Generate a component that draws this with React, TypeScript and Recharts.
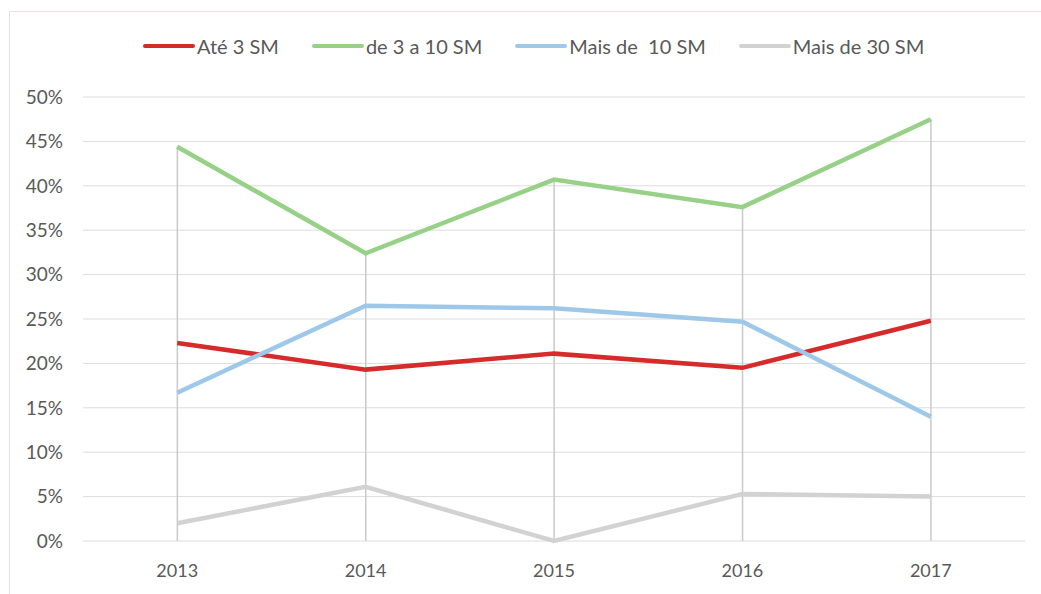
import React from 'react';
import { ComposedChart, Line, Bar, XAxis, YAxis, CartesianGrid, Legend } from 'recharts';

const years = ['2013', '2014', '2015', '2016', '2017'];
const ate3 = [22.3, 19.3, 21.1, 19.5, 24.8];
const de3a10 = [44.4, 32.4, 40.7, 37.6, 47.5];
const mais10 = [16.7, 26.5, 26.2, 24.7, 14.0];
const mais30 = [2.0, 6.1, 0.0, 5.3, 5.0];
const yTicks = [0, 5, 10, 15, 20, 25, 30, 35, 40, 45, 50];

const series = [
  { key: 'ate3', name: 'Até 3 SM', color: '#d52b2b' },
  { key: 'de3a10', name: 'de 3 a 10 SM', color: '#97d188' },
  { key: 'mais10', name: 'Mais de  10 SM', color: '#9dc8ea' },
  { key: 'mais30', name: 'Mais de 30 SM', color: '#d2d2d2' },
];

const data = years.map((y, i) => ({
  year: y,
  ate3: ate3[i],
  de3a10: de3a10[i],
  mais10: mais10[i],
  mais30: mais30[i],
  max: Math.max(ate3[i], de3a10[i], mais10[i], mais30[i]),
}));

const FONT = 'Lato, "Open Sans", sans-serif';

const DropLine = (props: any) => {
  const { x, y, width, height } = props;
  const cx = x + width / 2;
  return <line x1={cx} x2={cx} y1={y} y2={y + height} stroke="#c9c9c9" strokeWidth={1.5} />;
};

const LegendContent = () => (
  <div style={{ position: 'relative', height: 24, fontFamily: FONT, fontSize: 20, color: '#595959' }}>
    <div style={{ position: 'absolute', left: 143, top: 0, display: 'flex', alignItems: 'center', height: 24 }}>
      {series.map((s) => (
        <div key={s.key} style={{ display: 'flex', alignItems: 'center', marginRight: 33 }}>
          <div style={{ width: 52, height: 4, background: s.color, borderRadius: 2, marginRight: 2 }} />
          <span style={{ whiteSpace: 'pre' }}>{s.name}</span>
        </div>
      ))}
    </div>
  </div>
);

export default function App() {
  return (
    <div style={{ position: 'absolute', left: 0, top: 0, width: 1041, height: 594, background: '#fff' }}>
      <div style={{ position: 'absolute', left: 9, top: 11, right: 0, bottom: 0, borderLeft: '1px solid #e2e2e2', borderTop: '1px solid #e8e2e4' }} />
      <ComposedChart width={1041} height={594} data={data} margin={{ top: 73, right: 16, bottom: 0, left: 0 }}>
        <CartesianGrid vertical={false} stroke="#dcdcdc" strokeWidth={1} />
        <XAxis
          dataKey="year"
          axisLine={false}
          tickLine={false}
          height={53}
          tickSize={0}
          tickMargin={23}
          tick={{ fill: '#595959', fontSize: 18, fontFamily: FONT }}
        />
        <YAxis
          domain={[0, 50]}
          ticks={yTicks}
          axisLine={false}
          tickLine={false}
          width={83}
          tickSize={0}
          tickMargin={20}
          tickFormatter={(v: number) => `${v}%`}
          tick={{ fill: '#595959', fontSize: 19, fontFamily: FONT }}
        />
        <Legend verticalAlign="top" content={<LegendContent />} wrapperStyle={{ top: 34, left: 0, width: 1041 }} />
        <Bar dataKey="max" shape={<DropLine />} isAnimationActive={false} legendType="none" />
        {series.map((s) => (
          <Line
            key={s.key}
            dataKey={s.key}
            name={s.name}
            stroke={s.color}
            strokeWidth={4.5}
            dot={false}
            activeDot={false}
            isAnimationActive={false}
          />
        ))}
      </ComposedChart>
    </div>
  );
}
